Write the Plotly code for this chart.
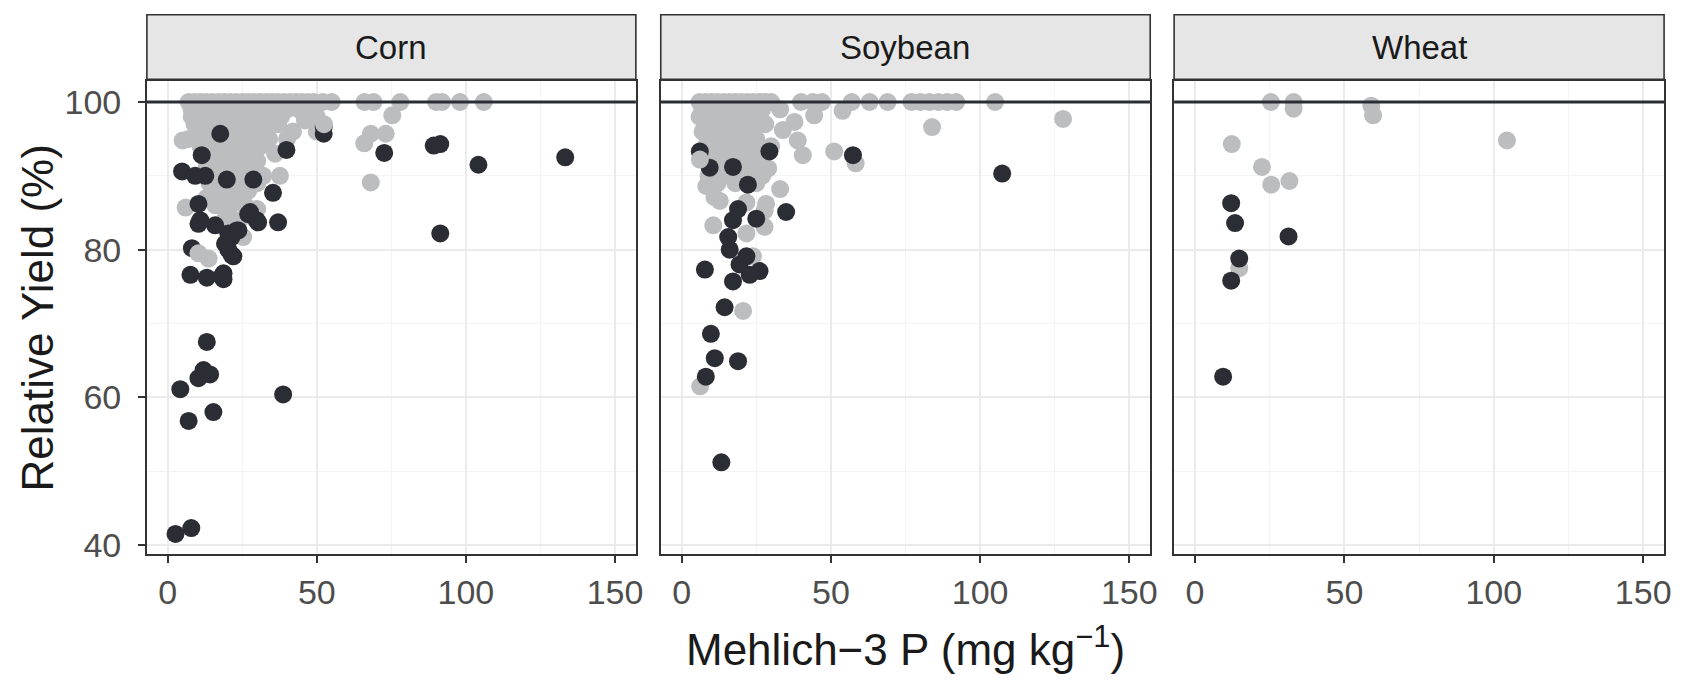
import plotly.graph_objects as go

W, H = 1691, 693
DARK = "#2b2d35"
GRAY = "#bcbdbf"

crops = ["Corn", "Soybean", "Wheat"]
x_ticks = [0, 50, 100, 150]
y_ticks = [40, 60, 80, 100]

# ---------------- Corn ----------------
corn_dark_x = [2.6, 7.9, 4.2, 7.0, 15.3, 12.0, 14.2, 10.3, 13.1, 38.7,
               133.3, 104.2, 91.4, 89.2, 91.4, 72.6, 52.3, 52.3, 39.8, 37.0,
               35.3, 29.8, 27.6, 28.7, 17.6, 11.4, 4.8, 9.2, 12.6, 19.8,
               10.3, 10.9, 15.9, 23.1, 21.4, 8.1, 20.3, 22.0, 7.6, 13.1,
               18.7, 18.7, 10.3, 27.0, 30.3, 19.2, 21.4, 18.1, 20.3, 23.7]
corn_dark_y = [41.5, 42.3, 61.1, 56.8, 58.0, 63.7, 63.1, 62.6, 67.5, 60.4,
               92.5, 91.5, 82.2, 94.1, 94.3, 93.1, 96.6, 95.7, 93.5, 83.7,
               87.7, 84.0, 85.1, 89.5, 95.7, 92.8, 90.6, 90.0, 90.0, 89.5,
               86.2, 84.0, 83.3, 82.6, 81.7, 80.2, 80.0, 79.1, 76.6, 76.2,
               76.8, 76.0, 83.5, 84.8, 83.7, 80.8, 79.3, 76.4, 82.2, 82.6]

corn_gray_x = [7, 9, 11, 13, 15, 17, 19, 21, 23, 25, 27, 29, 31, 33, 35, 37, 39, 41, 43, 45, 47, 49, 52, 55,
               66, 69, 78, 90, 92, 98, 106,
               8, 12, 16, 20, 24, 28, 32, 36, 40, 44, 48,
               8, 10, 14, 18, 22, 26, 30, 34, 38, 46, 50, 75.3,
               9, 13, 17, 21, 25, 29, 33, 37, 46,
               10, 14, 20, 24, 28, 32, 42, 50, 68.1, 73.1,
               7, 12, 16, 22, 26, 30, 34, 40, 65.9,
               5, 11, 19, 23, 27, 31,
               14, 22, 26, 29, 36,
               16, 20, 24, 30,
               13, 18, 22, 27,
               15, 21, 25, 32, 37.6,
               14, 19, 24, 30, 68.1,
               17, 22, 27,
               13, 18, 25,
               16, 21, 26,
               6, 20, 30,
               19, 24,
               22, 25.3]
corn_gray_y = [100] * 24 + [100] * 7 + \
              [99] * 11 + \
              [98] * 11 + [98.2] + \
              [97] * 8 + [97.5] + \
              [96] * 8 + [95.7, 95.7] + \
              [95] * 8 + [94.4] + \
              [94.8, 94, 94, 94, 94, 94] + \
              [93] * 5 + \
              [92] * 4 + \
              [91] * 4 + \
              [90] * 5 + \
              [89] * 4 + [89.1] + \
              [88] * 3 + \
              [87] * 3 + \
              [86] * 3 + \
              [85.7, 85, 85.5] + \
              [84] * 2 + \
              [83, 81.7]
corn_gray_top_x = [10.3, 13.7, 52.4]
corn_gray_top_y = [79.5, 78.8, 97.0]

# ---------------- Soybean ----------------
soy_dark_x = [57.4, 107.4, 6.1, 9.4, 17.2, 29.4, 22.2, 35.0, 18.9, 17.2,
              25.0, 15.6, 16.1, 21.7, 19.4, 26.1, 22.8, 17.2, 7.8, 14.4,
              9.8, 11.1, 18.9, 8.1, 13.3]
soy_dark_y = [92.8, 90.3, 93.3, 91.1, 91.2, 93.3, 88.8, 85.1, 85.5, 84.0,
              84.2, 81.7, 80.0, 79.1, 78.0, 77.1, 76.6, 75.7, 77.3, 72.2,
              68.6, 65.3, 64.9, 62.8, 51.2]

soy_gray_x = [6, 8, 10, 12, 14, 16, 18, 20, 22, 24, 26, 28, 30, 40, 44, 47, 57, 63, 69, 77, 80, 83, 86, 89, 92, 105,
              7, 11, 15, 19, 23, 27, 33,
              6, 9, 13, 17, 21, 25, 44.4, 53.9,
              8, 12, 16, 20, 24, 28, 37.8,
              7, 11, 15, 19, 23, 33.9, 83.9,
              9, 13, 17, 21, 25, 38.9,
              8, 12, 16, 20, 26, 30,
              10, 14, 18, 22, 24, 40.6, 51.1,
              11, 15, 20, 26, 58.3,
              13, 19, 24, 29,
              9, 16, 22, 27,
              12, 18, 25,
              8.3, 33.0, 11.0,
              12.8, 21.7, 28.3, 27.8,
              10.6, 27.8, 21.7, 23.9, 20.6, 6.2, 127.8]
soy_gray_y = [100] * 26 + \
             [99] * 7 + \
             [98] * 6 + [98.2, 98.8] + \
             [97] * 6 + [97.3] + \
             [96] * 5 + [96.2, 96.6] + \
             [95] * 5 + [94.8] + \
             [94] * 6 + \
             [93] * 5 + [92.8, 93.3] + \
             [92] * 4 + [91.7] + \
             [91] * 4 + \
             [90] * 4 + \
             [89] * 3 + \
             [88.6, 88.2, 87.1] + \
             [86.6, 86.4, 86.2, 85.3] + \
             [83.3, 83.1, 82.2, 79.1, 71.7, 61.5, 97.7]
soy_gray_top_x = [6.1]
soy_gray_top_y = [92.2]

# ---------------- Wheat ----------------
wheat_dark_x = [12.1, 13.4, 31.3, 14.8, 12.1, 9.4]
wheat_dark_y = [86.3, 83.6, 81.8, 78.8, 75.8, 62.8]
wheat_gray_x = [25.4, 33.0, 33.0, 59.0, 59.6, 104.4, 12.3, 22.4, 25.5, 31.6, 14.8]
wheat_gray_y = [100, 100, 99.1, 99.5, 98.2, 94.8, 94.3, 91.2, 88.8, 89.3, 77.5]
wheat_gray_top_x = []
wheat_gray_top_y = []

panels = [
    (corn_gray_x, corn_gray_y, corn_dark_x, corn_dark_y, corn_gray_top_x, corn_gray_top_y),
    (soy_gray_x, soy_gray_y, soy_dark_x, soy_dark_y, soy_gray_top_x, soy_gray_top_y),
    (wheat_gray_x, wheat_gray_y, wheat_dark_x, wheat_dark_y, wheat_gray_top_x, wheat_gray_top_y),
]

FONT = "Liberation Sans"
x_domains = [(147.5 / W, 638.5 / W), (663.5 / W, 1155 / W), (1179 / W, 1671 / W)]
y_domain = ((H - 562) / H, (H - 82.5) / H)
strip_y = ((H - 80.5) / H, (H - 15) / H)

fig = go.Figure()
marker_size = 18

for i, (gx, gy, dx, dy, tx, ty) in enumerate(panels):
    xa = "x" if i == 0 else f"x{i+1}"
    ya = "y" if i == 0 else f"y{i+1}"
    for xs, ys, col in [(gx, gy, GRAY), (dx, dy, DARK), (tx, ty, GRAY)]:
        if len(xs) == 0:
            continue
        fig.add_trace(go.Scatter(x=xs, y=ys, mode="markers", xaxis=xa, yaxis=ya,
                                 marker=dict(size=marker_size, color=col, line=dict(width=0)),
                                 showlegend=False, hoverinfo="x+y"))

layout = dict(width=W, height=H, margin=dict(l=0, r=0, t=0, b=0),
              paper_bgcolor="white", plot_bgcolor="white", showlegend=False)

for i in range(3):
    sx = "" if i == 0 else str(i + 1)
    layout[f"xaxis{sx}"] = dict(
        domain=list(x_domains[i]), anchor=f"y{sx}", range=[-7, 157],
        tickmode="array", tickvals=x_ticks, ticktext=[str(v) for v in x_ticks],
        ticks="outside", ticklen=7, tickwidth=1.6, tickcolor="#333333",
        showline=True, mirror=True, linecolor="#333333", linewidth=1.6,
        showgrid=True, gridcolor="#ebebeb", gridwidth=1.5,
        minor=dict(tickvals=[25, 75, 125], showgrid=True, gridcolor="#f4f4f4", gridwidth=0.9, ticks=""),
        zeroline=False, tickfont=dict(family=FONT, size=34, color="#4d4d4d"),
        ticklabelstandoff=1, fixedrange=True)
    layout[f"yaxis{sx}"] = dict(
        domain=list(y_domain), anchor=f"x{sx}", range=[38.8, 102.8],
        tickmode="array", tickvals=y_ticks, ticktext=[str(v) for v in y_ticks],
        ticks="outside" if i == 0 else "", ticklen=7, tickwidth=1.6, tickcolor="#333333",
        showticklabels=(i == 0),
        showline=True, mirror=True, linecolor="#333333", linewidth=1.6,
        showgrid=True, gridcolor="#ebebeb", gridwidth=1.5,
        minor=dict(tickvals=[50, 70, 90], showgrid=True, gridcolor="#f4f4f4", gridwidth=0.9, ticks=""),
        zeroline=False, tickfont=dict(family=FONT, size=34, color="#4d4d4d"),
        ticklabelstandoff=10, fixedrange=True)

fig.update_layout(**layout)

shapes = []
annotations = []
for i, name in enumerate(crops):
    sx = "" if i == 0 else str(i + 1)
    # reference line at 100 %
    shapes.append(dict(type="line", xref=f"x{sx} domain", yref=f"y{sx}", x0=0, x1=1, y0=100, y1=100,
                       line=dict(color=DARK, width=3.2), layer="above"))
    # facet strip
    shapes.append(dict(type="rect", xref="paper", yref="paper",
                       x0=x_domains[i][0], x1=x_domains[i][1], y0=strip_y[0], y1=strip_y[1],
                       fillcolor="#e6e6e6", line=dict(color="#333333", width=1.6), layer="above"))
    annotations.append(dict(text=name, xref="paper", yref="paper",
                            x=(x_domains[i][0] + x_domains[i][1]) / 2, y=(strip_y[0] + strip_y[1]) / 2,
                            showarrow=False, xanchor="center", yanchor="middle",
                            font=dict(family=FONT, size=33, color="#1a1a1a")))

annotations.append(dict(text="Relative Yield (%)", xref="paper", yref="paper",
                        x=38 / W, y=(y_domain[0] + y_domain[1]) / 2, textangle=-90,
                        showarrow=False, xanchor="center", yanchor="middle",
                        font=dict(family=FONT, size=44, color="#1a1a1a")))
annotations.append(dict(text="Mehlich\u22123 P (mg kg<sup>\u22121</sup>)", xref="paper", yref="paper",
                        x=909 / W, y=(H - 656) / H,
                        showarrow=False, xanchor="center", yanchor="middle",
                        font=dict(family=FONT, size=44, color="#1a1a1a")))

fig.update_layout(shapes=shapes, annotations=annotations)
fig.write_html("out.html")
